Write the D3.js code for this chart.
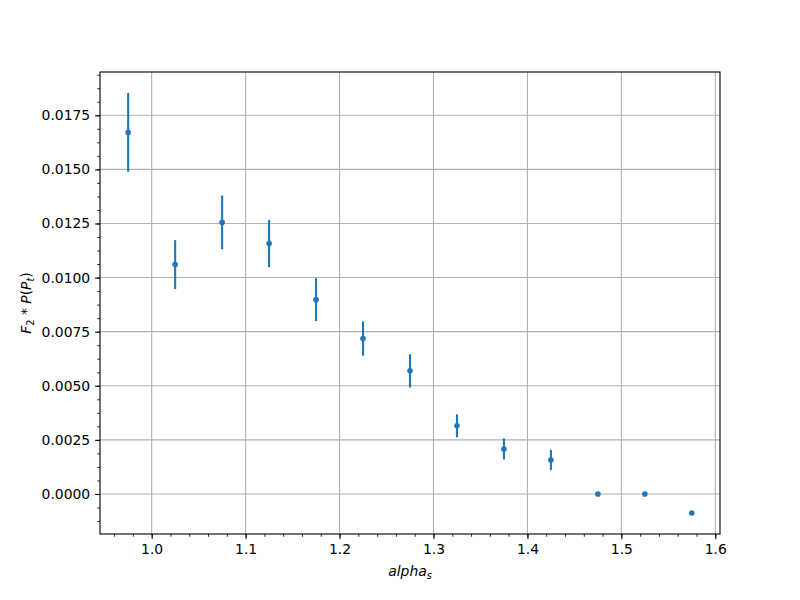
<!DOCTYPE html>
<html>
<head>
<meta charset="utf-8">
<script src="https://cdn.jsdelivr.net/npm/d3@7"></script>
<style>
  html, body { margin: 0; padding: 0; background: #fff; }
  svg { display: block; }
  text { font-family: "DejaVu Sans", sans-serif; }
</style>
</head>
<body>
<svg id="chart" width="800" height="600"></svg>
<script>
// Data
const alphaS = [0.975, 1.025, 1.075, 1.125, 1.175, 1.225, 1.275, 1.325, 1.375, 1.425, 1.475, 1.525, 1.575];
const values = [0.01671, 0.01060, 0.01255, 0.01157, 0.00898, 0.00718, 0.00569, 0.00315, 0.00208, 0.00157, 0.0, 0.0, -0.00088];
const errors = [0.00182, 0.00113, 0.00124, 0.00109, 0.00099, 0.00079, 0.00077, 0.00053, 0.00049, 0.00047, 0.0, 0.0, 0.0];
const xTicks = [1.0, 1.1, 1.2, 1.3, 1.4, 1.5, 1.6];
const yTicks = [0.0, 0.0025, 0.0050, 0.0075, 0.0100, 0.0125, 0.0150, 0.0175];

const W = 800, H = 600;
const m = { left: 100, right: 80, top: 72, bottom: 66 };
const iw = W - m.left - m.right, ih = H - m.top - m.bottom;
const color = "#1f77b4";

const svg = d3.select("#chart");
svg.append("rect").attr("width", W).attr("height", H).attr("fill", "#fff");

// domains with 5% margins like matplotlib
const xmin = d3.min(alphaS), xmax = d3.max(alphaS);
const xpad = (xmax - xmin) * 0.05;
const lo = d3.min(values.map((v, i) => v - errors[i]));
const hi = d3.max(values.map((v, i) => v + errors[i]));
const ypad = (hi - lo) * 0.05;

const x = d3.scaleLinear().domain([xmin - xpad, xmax + xpad]).range([m.left, m.left + iw]);
const y = d3.scaleLinear().domain([lo - ypad, hi + ypad]).range([m.top + ih, m.top]);

const g = svg.append("g");

// grid
g.append("g").selectAll("line").data(xTicks).join("line")
  .attr("x1", d => x(d)).attr("x2", d => x(d))
  .attr("y1", m.top).attr("y2", m.top + ih)
  .attr("stroke", "#b0b0b0").attr("stroke-width", 1.1);
g.append("g").selectAll("line").data(yTicks).join("line")
  .attr("x1", m.left).attr("x2", m.left + iw)
  .attr("y1", d => y(d)).attr("y2", d => y(d))
  .attr("stroke", "#b0b0b0").attr("stroke-width", 1.1);

// error bars
g.append("g").selectAll("line").data(alphaS.map((a, i) => ({ a, v: values[i], e: errors[i] })).filter(d => d.e > 0))
  .join("line")
  .attr("x1", d => x(d.a)).attr("x2", d => x(d.a))
  .attr("y1", d => y(d.v - d.e)).attr("y2", d => y(d.v + d.e))
  .attr("stroke", color).attr("stroke-width", 2.1);

// points
g.append("g").selectAll("circle").data(alphaS.map((a, i) => ({ a, v: values[i] })))
  .join("circle")
  .attr("cx", d => x(d.a)).attr("cy", d => y(d.v))
  .attr("r", 2.8).attr("fill", color);

// axes
const fmtY = d3.format(".4f");
const xMinor = d3.range(0.94, 1.62, 0.02).filter(v => v >= x.domain()[0] && v <= x.domain()[1]);
const yMinor = d3.range(-0.0025, 0.0200, 0.000625).filter(v => v >= y.domain()[0] && v <= y.domain()[1]);

const xAxis = d3.axisBottom(x).tickValues(xTicks).tickFormat(d3.format(".1f")).tickSize(4.9).tickPadding(4.9);
const xAxisMinor = d3.axisBottom(x).tickValues(xMinor).tickFormat("").tickSize(2.8);
const yAxis = d3.axisLeft(y).tickValues(yTicks).tickFormat(fmtY).tickSize(4.9).tickPadding(4.9);
const yAxisMinor = d3.axisLeft(y).tickValues(yMinor).tickFormat("").tickSize(2.8);

function styleAxis(sel, width) {
  sel.select(".domain").remove();
  sel.selectAll(".tick line").attr("stroke", "#000").attr("stroke-width", width);
  sel.selectAll(".tick text").attr("fill", "#000").style("font-size", "13.9px").style("font-family", "DejaVu Sans");
}
svg.append("g").attr("transform", `translate(0,${m.top + ih})`).call(xAxisMinor).call(s => styleAxis(s, 0.8));
svg.append("g").attr("transform", `translate(0,${m.top + ih})`).call(xAxis).call(s => styleAxis(s, 1.1));
svg.append("g").attr("transform", `translate(${m.left},0)`).call(yAxisMinor).call(s => styleAxis(s, 0.8));
svg.append("g").attr("transform", `translate(${m.left},0)`).call(yAxis).call(s => styleAxis(s, 1.1));

// frame
svg.append("rect").attr("x", m.left).attr("y", m.top).attr("width", iw).attr("height", ih)
  .attr("fill", "none").attr("stroke", "#000").attr("stroke-width", 1.1);

// x label: alpha_s
const xl = svg.append("text").attr("x", m.left + iw / 2).attr("y", 576).attr("text-anchor", "middle")
  .style("font-size", "13.9px").attr("fill", "#000");
xl.append("tspan").style("font-style", "italic").text("alpha");
xl.append("tspan").style("font-style", "italic").style("font-size", "9.7px").attr("dy", 2.5).text("s");

// y label: F_2 * P(P_t)
const yl = svg.append("text").attr("transform", `translate(31,${m.top + ih / 2}) rotate(-90)`)
  .attr("text-anchor", "middle").style("font-size", "13.9px").attr("fill", "#000");
yl.append("tspan").style("font-style", "italic").text("F");
yl.append("tspan").style("font-size", "9.7px").attr("dy", 2.5).text("2");
yl.append("tspan").attr("dy", -2.5).text(" * ");
yl.append("tspan").style("font-style", "italic").text("P");
yl.append("tspan").text("(");
yl.append("tspan").style("font-style", "italic").text("P");
yl.append("tspan").style("font-style", "italic").style("font-size", "9.7px").attr("dy", 2.5).text("t");
yl.append("tspan").attr("dy", -2.5).text(")");
</script>
</body>
</html>
